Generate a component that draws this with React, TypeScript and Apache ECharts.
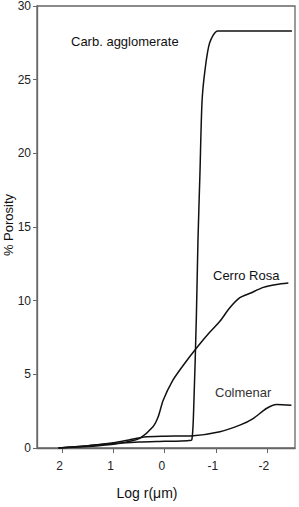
import React, { useEffect, useRef } from "react";
import * as echarts from "echarts";

const xTicks = [-2, -1, 0, 1, 2];

const carbX = [2.08, 1.5, 1.0, 0.5, 0.0, -0.45, -0.53, -0.57, -0.62, -0.65, -0.69, -0.73, -0.79, -0.88, -1.04, -2.49];
const carbY = [0.0, 0.15, 0.3, 0.4, 0.45, 0.5, 0.55, 3.0, 9.0, 14.0, 18.7, 23.5, 25.7, 27.5, 28.3, 28.3];

const cerroX = [2.08, 1.5, 1.0, 0.7, 0.49, 0.23, 0.13, 0.03, -0.16, -0.36, -0.65, -0.88, -1.08, -1.27, -1.47, -1.67, -1.93, -2.19, -2.42];
const cerroY = [0.0, 0.1, 0.25, 0.45, 0.65, 1.44, 2.1, 3.24, 4.6, 5.6, 6.9, 7.85, 8.6, 9.5, 10.2, 10.5, 10.9, 11.1, 11.2];

const colX = [2.08, 1.5, 1.0, 0.7, 0.4, 0.0, -0.56, -1.08, -1.47, -1.73, -1.99, -2.19, -2.48];
const colY = [0.0, 0.15, 0.35, 0.55, 0.75, 0.8, 0.83, 1.1, 1.55, 2.0, 2.68, 2.95, 2.9];

const seriesNames = ["Carb. agglomerate", "Cerro Rosa", "Colmenar"];

const FONT = "'Liberation Sans', Arial, Helvetica, sans-serif";

function zip(xs: number[], ys: number[]) {
  return xs.map((x, i) => [x, ys[i]]);
}

export default function App() {
  const ref = useRef<HTMLDivElement>(null);
  useEffect(() => {
    if (!ref.current) return;
    const chart = echarts.init(ref.current, undefined, { renderer: "svg" });
    const lineStyle = { color: "#111", width: 1.5 };
    chart.setOption({
      animation: false,
      backgroundColor: "#fff",
      grid: {
        left: 37,
        top: 3,
        right: 4,
        bottom: 59,
        show: true,
        borderColor: "#666",
        borderWidth: 1.3,
      },
      xAxis: {
        type: "value",
        inverse: true,
        min: -2.55,
        max: 2.5,
        axisLine: { show: true, onZero: false, lineStyle: { color: "#666", width: 1.3 } },
        axisTick: {
          show: true,
          inside: false,
          length: 5,
          customValues: xTicks,
          lineStyle: { color: "#666" },
        },
        axisLabel: {
          customValues: xTicks,
          margin: 12,
          color: "#222",
          fontFamily: FONT,
          fontSize: 12,
          padding: [0, 6, 0, 0],
        },
        splitLine: { show: false },
      },
      yAxis: {
        type: "value",
        min: 0,
        max: 30,
        interval: 5,
        axisLine: { show: true, onZero: false, lineStyle: { color: "#666", width: 1.3 } },
        axisTick: { show: true, inside: false, length: 4, lineStyle: { color: "#666" } },
        axisLabel: { margin: 6, color: "#222", fontFamily: FONT, fontSize: 12 },
        splitLine: { show: false },
      },
      series: [
        { name: seriesNames[0], data: zip(carbX, carbY) },
        { name: seriesNames[1], data: zip(cerroX, cerroY) },
        { name: seriesNames[2], data: zip(colX, colY) },
      ].map((s) => ({
        ...s,
        type: "line",
        showSymbol: false,
        symbol: "none",
        smooth: 0.25,
        lineStyle,
      })),
      graphic: [
        {
          type: "text",
          left: 71,
          top: 35,
          style: { text: seriesNames[0], fontFamily: FONT, fontSize: 13, fill: "#111" },
        },
        {
          type: "text",
          left: 213,
          top: 269,
          style: { text: seriesNames[1], fontFamily: FONT, fontSize: 13, fill: "#111" },
        },
        {
          type: "text",
          left: 215,
          top: 386,
          style: { text: seriesNames[2], fontFamily: FONT, fontSize: 13, fill: "#333" },
        },
        {
          type: "text",
          x: 147,
          y: 493,
          style: {
            text: "Log r(μm)",
            fontFamily: FONT,
            fontSize: 14,
            fill: "#111",
            align: "center",
            verticalAlign: "middle",
          },
        },
        {
          type: "text",
          x: 8,
          y: 225,
          rotation: Math.PI / 2,
          style: {
            text: "% Porosity",
            fontFamily: FONT,
            fontSize: 13,
            fill: "#111",
            align: "center",
            verticalAlign: "middle",
          },
        },
      ],
    });
    return () => chart.dispose();
  }, []);
  return (
    <div
      ref={ref}
      style={{ position: "fixed", left: 0, top: 0, width: 299, height: 507 }}
    />
  );
}
